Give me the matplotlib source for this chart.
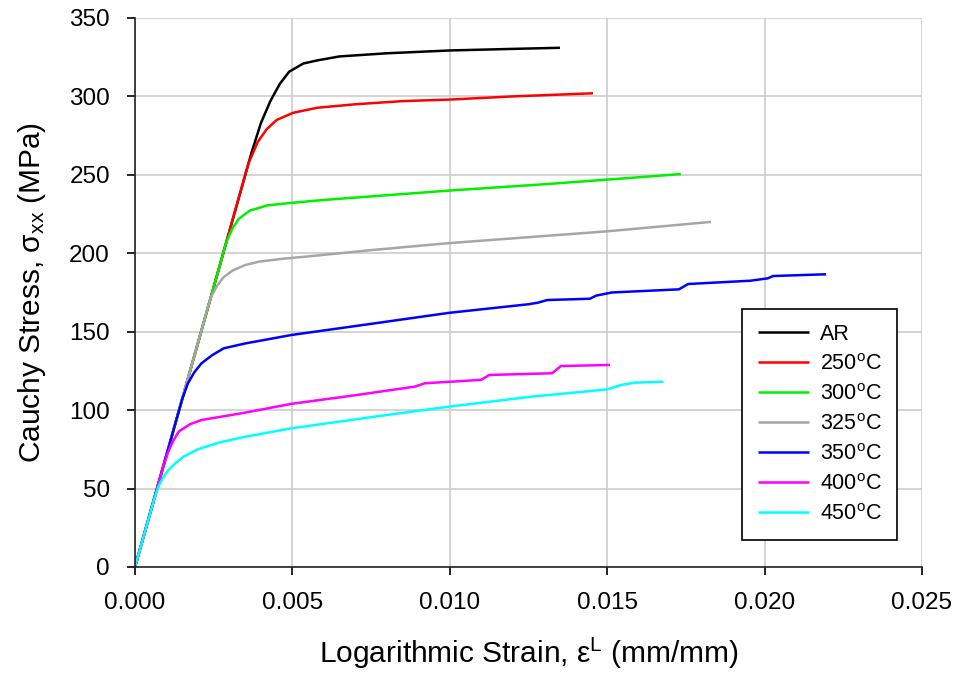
import matplotlib
matplotlib.use("Agg")
import matplotlib.pyplot as plt

plt.rcParams["font.family"] = ["Liberation Sans", "DejaVu Sans"]
plt.rcParams["mathtext.fontset"] = "custom"
plt.rcParams["mathtext.rm"] = "Liberation Sans"
plt.rcParams["mathtext.it"] = "Liberation Sans:italic"

# stress-strain curves (strain mm/mm, stress MPa)
ar_strain = [0.0, 0.0037, 0.0040, 0.0043, 0.0046, 0.0049, 0.00535, 0.0058, 0.0065, 0.0080, 0.0100, 0.0120, 0.0135]
ar_stress = [0.0, 264, 283, 297, 308, 315.8, 321, 323, 325.5, 327.5, 329.3, 330.3, 331]

r250_strain = [0.0, 0.0036, 0.0039, 0.00418, 0.0045, 0.00503, 0.0058, 0.0070, 0.0085, 0.0100, 0.0120, 0.01455]
r250_stress = [0.0, 257, 271, 279, 285, 289.6, 292.8, 295, 297, 298, 300, 302]

r300_strain = [0.0, 0.0029, 0.0031, 0.0033, 0.00365, 0.0042, 0.0049, 0.0060, 0.0080, 0.0100, 0.0130, 0.0157, 0.01734]
r300_stress = [0.0, 207, 216, 222, 227.2, 230.5, 232, 234, 237, 240, 244, 248, 250.5]

r325_strain = [0.0, 0.0024, 0.0026, 0.0028, 0.0031, 0.0035, 0.00395, 0.0047, 0.0055, 0.0075, 0.0100, 0.0130, 0.0150, 0.0183]
r325_stress = [0.0, 171.5, 179, 184.5, 189, 192.5, 194.7, 196.5, 198, 202, 206.5, 211, 214, 220]

r350_strain = [0.0, 0.00150, 0.00168, 0.00188, 0.00211, 0.00245, 0.00282, 0.0035, 0.0041, 0.00497, 0.0075, 0.00997,
               0.0125, 0.0128, 0.0131, 0.01445, 0.01465, 0.01515, 0.01728, 0.01757, 0.01955, 0.0201, 0.02027, 0.02195]
r350_stress = [0.0, 107, 117, 124, 129.8, 135, 139.4, 142.5, 144.7, 147.9, 155, 162,
               167.5, 168.5, 170.2, 171, 173, 175, 177, 180.4, 182.5, 184, 185.5, 186.6]

r400_strain = [0.0, 0.00090, 0.00105, 0.0012, 0.0014, 0.00175, 0.00211, 0.00339, 0.00497, 0.0070, 0.0089, 0.0092,
               0.0110, 0.01125, 0.01325, 0.01353, 0.01509]
r400_stress = [0.0, 64, 73, 80, 86.5, 91, 93.7, 98, 104, 109.5, 115, 117.1,
               119.3, 122.4, 123.5, 128.1, 128.8]

r450_strain = [0.0, 0.00062, 0.00075, 0.00088, 0.00105, 0.00125, 0.00154, 0.0020, 0.00267, 0.0035, 0.00497, 0.0075,
               0.00997, 0.0126, 0.0150, 0.01544, 0.01587, 0.01679]
r450_stress = [0.0, 44, 51.5, 56.5, 61.5, 65.5, 70.3, 75, 79.3, 83, 88.4, 95.5,
               102.2, 108.6, 113.2, 116, 117.5, 118.1]

labels = ["AR", "250$^{\\mathrm{o}}$C", "300$^{\\mathrm{o}}$C", "325$^{\\mathrm{o}}$C",
          "350$^{\\mathrm{o}}$C", "400$^{\\mathrm{o}}$C", "450$^{\\mathrm{o}}$C"]
colors = ["#000000", "#ff0000", "#00f000", "#a6a6a6", "#0000ff", "#ff00ff", "#00ffff"]

series = [(ar_strain, ar_stress), (r250_strain, r250_stress), (r300_strain, r300_stress),
          (r325_strain, r325_stress), (r350_strain, r350_stress), (r400_strain, r400_stress),
          (r450_strain, r450_stress)]

fig = plt.figure(figsize=(9.58, 6.79), dpi=100)
ax = fig.add_axes([0.1409, 0.165, 0.8215, 0.8085])

for (xs, ys), lab, c in zip(series, labels, colors):
    ax.plot(xs, ys, color=c, lw=1.8, label=lab, solid_capstyle="butt", solid_joinstyle="round")

ax.set_xlim(0, 0.025)
ax.set_ylim(0, 350)
ax.set_xticks([0.000, 0.005, 0.010, 0.015, 0.020, 0.025])
ax.set_xticklabels(["0.000", "0.005", "0.010", "0.015", "0.020", "0.025"])
ax.set_yticks(range(0, 351, 50))
ax.grid(True, color="#cccccc", lw=1.2)
ax.set_axisbelow(True)
for s in ["top", "right"]:
    ax.spines[s].set_visible(False)
for s in ["left", "bottom"]:
    ax.spines[s].set_color("#222222")
    ax.spines[s].set_linewidth(1.2)
ax.tick_params(axis="x", direction="out", length=6, width=1.2, pad=12, labelsize=17.5)
ax.tick_params(axis="y", direction="out", length=6, width=1.2, pad=12, labelsize=17.5)

ax.set_xlabel("Logarithmic Strain, ε$^{\\mathrm{L}}$ (mm/mm)", fontsize=21.5, labelpad=16)
ax.set_ylabel("Cauchy Stress, σ$_{\\mathrm{xx}}$ (MPa)", fontsize=21.5, labelpad=15)

leg = ax.legend(loc="lower right", bbox_to_anchor=(0.968, 0.049), fontsize=15.5,
                frameon=True, fancybox=False, handlelength=2.4, labelspacing=0.42,
                borderpad=0.7, handletextpad=0.5, framealpha=1, borderaxespad=0)
leg.get_frame().set_edgecolor("black")
leg.get_frame().set_linewidth(1.2)

fig.savefig("out.png", dpi=100)
